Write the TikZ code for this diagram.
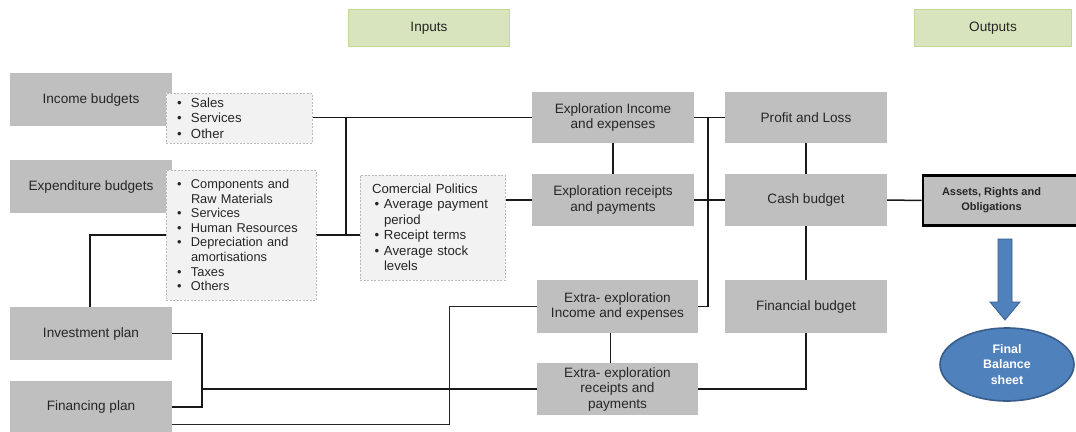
\documentclass[tikz,border=0pt]{standalone}
\usepackage{fontspec}
\setmainfont{Liberation Sans}
\usetikzlibrary{backgrounds,shapes.geometric}

\definecolor{boxgray}{RGB}{191,191,191}
\definecolor{listfill}{RGB}{242,242,242}
\definecolor{listedge}{RGB}{185,185,185}
\definecolor{hdrfill}{RGB}{215,228,189}
\definecolor{hdredge}{RGB}{196,215,155}
\definecolor{inkc}{RGB}{38,38,38}
\definecolor{bluefill}{RGB}{79,129,189}
\definecolor{blueedge}{RGB}{56,93,138}

% bullet and hanging indent for the item lists
\newcommand{\lbul}{\makebox[14pt][l]{\textbullet}}
\newcommand{\lind}{\hspace*{14pt}}
\newcommand{\cbul}{\makebox[12pt][l]{\hspace{2.5pt}\textbullet}}
\newcommand{\cind}{\hspace*{12pt}}

\tikzset{
  block/.style={fill=boxgray, draw=none, minimum width=162pt, align=center, inner sep=2pt,
    font=\fontsize{13.6}{15.5}\selectfont},
  hdr/.style={fill=hdrfill, draw=hdredge, line width=1.5pt, minimum height=37pt,
    font=\fontsize{13.6}{15.5}\selectfont},
  listbox/.style={fill=listfill, draw=listedge, dash pattern=on 2pt off 1.5pt,
    line width=0.6pt, align=left, inner xsep=11pt, inner ysep=3pt,
    font=\fontsize{13.2}{15.5}\selectfont},
  wire/.style={draw=black!90, line width=1.5pt},
  thinwire/.style={draw=black!85, line width=0.8pt},
}

\begin{document}
\begin{tikzpicture}[x=1pt, y=-1pt, text=inkc]
\useasboundingbox (0,0) rectangle (1076,431);

% column headings
\node[hdr, minimum width=161pt] (inputs) at (429,28) {Inputs};
\node[hdr, minimum width=157pt] (outputs) at (993,28) {Outputs};

% budgets and plans
\node[block, minimum height=53pt] (inc) at (91,99.5) {Income budgets};
\node[block, minimum height=53pt] (expb) at (91,186.5) {Expenditure budgets};
\node[block, minimum height=53pt] (inv) at (91,333.5) {Investment plan};
\node[block, minimum height=52pt] (fin) at (91,407) {Financing plan};

% item lists
\node[listbox, text width=124pt, minimum height=50pt] (sales) at (239,118)
  {\lbul Sales\\\lbul Services\\\lbul Other};
\node[listbox, text width=128pt, minimum height=130pt,
      font=\fontsize{12.8}{14.6}\selectfont] (expl) at (241,235)
  {\lbul Components and\\\lind Raw Materials\\\lbul Services\\\lbul Human Resources\\
   \lbul Depreciation and\\\lind amortisations\\\lbul Taxes\\\lbul Others};
\node[listbox, text width=121pt, inner xsep=12pt, minimum height=105pt] (comm) at (432.5,227.5)
  {Comercial Politics\\\cbul Average payment\\\cind period\\\cbul Receipt terms\\
   \cbul Average stock\\\cind levels};

% exploration blocks
\node[block, minimum height=51pt] (eie) at (613,117.5) {Exploration Income\\and expenses};
\node[block, minimum height=52pt] (erp) at (613,200) {Exploration receipts\\and payments};
\node[block, minimum width=161pt, minimum height=53pt] (xie) at (617.5,306.5)
  {Extra- exploration\\Income and expenses};
\node[block, minimum width=161pt, minimum height=52pt] (xrp) at (617.5,389)
  {Extra- exploration\\receipts and\\payments};

% outputs
\node[block, minimum height=51pt] (pl) at (806,117.5) {Profit and Loss};
\node[block, minimum height=52pt] (cash) at (806,200) {Cash budget};
\node[block, minimum height=53pt] (finb) at (806,306.5) {Financial budget};
\node[block, draw=black, line width=2.6pt, minimum width=160pt, minimum height=50pt,
      font=\bfseries\fontsize{11}{15}\selectfont] (assets) at (1003,200.5)
  {\parbox{112pt}{\centering Assets, Rights and\\Obligations}\hspace*{23pt}};

% down arrow to the final balance sheet
\fill[bluefill, draw=blueedge, line width=0.8pt]
  (998,239) -- (1012,239) -- (1012,302) -- (1020,302) -- (1005,320)
  -- (990,302) -- (998,302) -- cycle;
\node[ellipse, fill=bluefill, draw=blueedge, line width=1.6pt, minimum width=134pt,
      minimum height=73pt, inner sep=0pt, text=white, align=center,
      font=\bfseries\fontsize{12.4}{15.5}\selectfont] (fbs) at (1007,364.5)
  {Final\\Balance\\sheet};

% connectors
\coordinate (jA) at (346,117.5);
\coordinate (jB) at (90,235);
\coordinate (jR) at (708,117.5);
\coordinate (jC) at (202,389);
\coordinate (jT) at (449,424);
\begin{scope}[on background layer]
  \fill[white] (0,0) rectangle (1076,431);
  \draw[wire] (eie.west -| sales.east) -- (eie.west);
  \draw[wire] (jA) -- (jA |- jB);
  \draw[wire] (inv.north -| jB) -- (jB) -- (jB -| comm.west);
  \draw[wire] (erp.west -| comm.east) -- (erp.west);
  \draw[wire] (eie.south) -- (erp.north);
  \draw[wire] (eie.east) -- (pl.west);
  \draw[wire] (erp.east) -- (cash.west);
  \draw[wire] (jR) |- (xie.east);
  \draw[wire] (pl.south) -- (cash.north);
  \draw[wire] (cash.south) -- (finb.north);
  \draw[wire] (cash.east) -- (assets.west);
  \draw[wire] (finb.south) |- (xrp.east);
  \draw[wire] ([xshift=-7pt]xie.south) -- ([xshift=-7pt]xrp.north);
  \draw[wire] (inv.east) -| (jC) |- (fin.east);
  \draw[wire] (jC) -- (xrp.west);
  \draw[thinwire] (fin.east |- jT) -- (jT) |- (xie.west);
\end{scope}
\end{tikzpicture}
\end{document}
